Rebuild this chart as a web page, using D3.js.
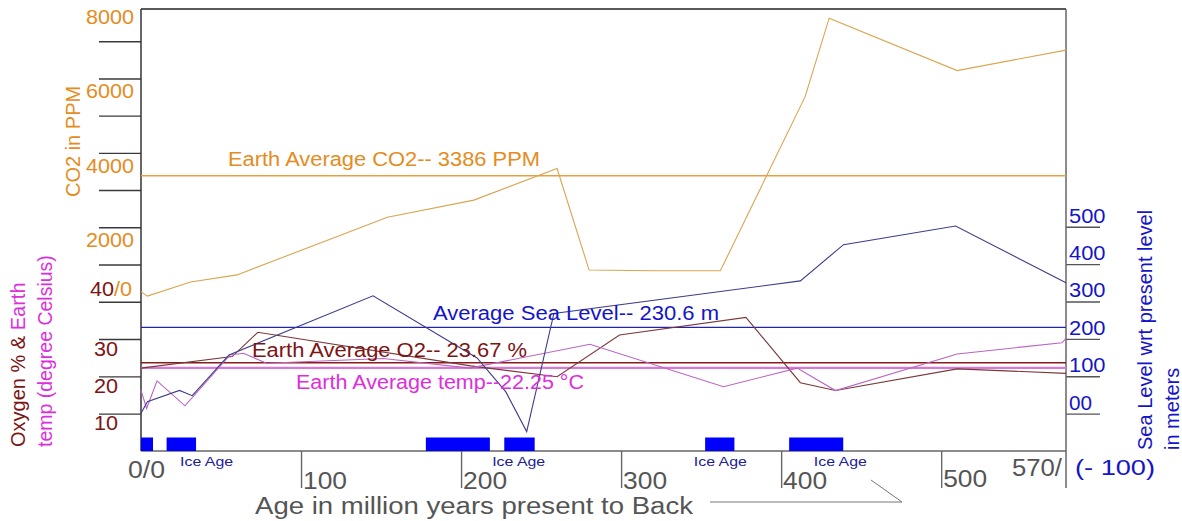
<!DOCTYPE html>
<html><head><meta charset="utf-8">
<script src="https://cdn.jsdelivr.net/npm/d3@7"></script>
<style>
body{margin:0;background:#fff;}
svg{display:block;}
text{font-family:"Liberation Sans",Arial,sans-serif;}
</style>
</head><body>
<svg id="c" width="1182" height="521"></svg>
<script>
// ---------------- DATA ----------------
const co2Ages  = [0, 4, 31, 60, 154, 208, 260, 280, 321, 362, 415, 430, 510, 578];
const co2Vals  = [270, 150, 530, 720, 2270, 2730, 3580, 850, 830, 830, 5510, 7620, 6210, 6760];

const seaAges  = [0, 4, 24, 32, 55, 145, 210, 228, 241, 258, 412, 439, 509, 578];
const seaVals  = [1, 32, 62, 48, 157, 315, 149, 58, -48, 268, 355, 452, 502, 350];

const o2Ages   = [0, 57, 73, 206, 260, 299, 378, 412, 434, 510, 578];
const o2Vals   = [22.2, 25.3, 31.8, 22.8, 19.9, 31.1, 35.8, 18.3, 16.2, 22.0, 20.8];

const tempAges = [0, 3.5, 10, 27.5, 55.5, 64, 78.5, 151.5, 205.5, 280.5, 364, 410, 434, 510, 575.5, 578];
const tempVals = [16.3, 11.4, 18.8, 12.1, 25.7, 26.2, 23.5, 24.8, 22.2, 28.6, 17.2, 22.2, 16.2, 26.0, 29.0, 30.2];

const co2Avg = 3386, seaAvg = 230.6, o2Avg = 23.67, tempAvg = 22.25;

const iceAges = [[0, 7.5], [16, 34.4], [178, 218], [227, 246], [352.5, 370.8], [405, 438.8]];
const iceLabelAges = [41, 236, 362, 437];

const co2TickVals = [1000, 2000, 3000, 4000, 5000, 6000, 7000];
const o2TickVals = [10, 20, 30, 40];
const seaTickVals = [0, 100, 200, 300, 400, 500];
const xTickVals = [100, 200, 300, 400, 500];

const co2Labels = ["8000", "6000", "4000", "2000"];
const o2Labels = ["30", "20", "10"];
const seaLabels = ["500", "400", "300", "200", "100", "00"];
const xLabels = ["100", "200", "300", "400", "500"];

// ---------------- SETUP ----------------
const svg = d3.select("#c");
const x = d3.scaleLinear().domain([0, 578]).range([141, 1066]);
const yCO2 = d3.scaleLinear().domain([0, 8000]).range([301.7, 4]);
const yO2 = d3.scaleLinear().domain([0, 40]).range([451, 301.7]);
const ySea = d3.scaleLinear().domain([-100, 500]).range([451, 226.7]);

const C = {
  co2Text: "#e58c1e", co2Avg: "#e6a040", co2Line: "#d9a552",
  seaText: "#1414c8", seaAvg: "#2424a8", seaLine: "#3d3d8a",
  o2Text: "#7d1414", o2Avg: "#8b1a1a", o2Line: "#7a3838",
  tText: "#dd2edd", tAvg: "#d67ad6", tLine: "#bb64c4",
  grey: "#555555", ice: "#0000ff", iceText: "#20209a"
};

function txt(g, s, px, py, size, color, anchor, width) {
  const t = g.append("text").attr("x", px).attr("y", py)
    .attr("font-size", size).attr("fill", color)
    .attr("text-anchor", anchor || "start").text(s);
  if (width) t.attr("textLength", width).attr("lengthAdjust", "spacingAndGlyphs");
  return t;
}

// ---------------- AXES ----------------
const gAx = svg.append("g");
function cleanAxis(g, color) {
  g.select(".domain").remove();
  g.selectAll(".tick line").attr("stroke", color).attr("stroke-width", 1.4);
  g.selectAll(".tick text").remove();
}
gAx.append("g").attr("transform", "translate(141,0)")
  .call(d3.axisLeft(yCO2).tickValues(co2TickVals).tickSize(42))
  .call(g => cleanAxis(g, "#3a3a3a"));
gAx.append("g").attr("transform", "translate(141,0)")
  .call(d3.axisLeft(yO2).tickValues(o2TickVals).tickSize(42))
  .call(g => cleanAxis(g, "#3a3a3a"));
gAx.append("g").attr("transform", "translate(1066,0)")
  .call(d3.axisRight(ySea).tickValues(seaTickVals).tickSize(34))
  .call(g => cleanAxis(g, "#555"));
gAx.append("g").attr("transform", "translate(0,451)")
  .call(d3.axisBottom(x).tickValues(xTickVals).tickSize(37))
  .call(g => cleanAxis(g, "#666"));

// frame
gAx.append("line").attr("x1", 141).attr("x2", 1066).attr("y1", 9).attr("y2", 9).attr("stroke", "#222").attr("stroke-width", 1.5);
gAx.append("line").attr("x1", 141).attr("x2", 141).attr("y1", 9).attr("y2", 451).attr("stroke", "#333").attr("stroke-width", 1.5);
gAx.append("line").attr("x1", 1066).attr("x2", 1066).attr("y1", 9).attr("y2", 488).attr("stroke", "#666").attr("stroke-width", 1.5);
gAx.append("line").attr("x1", 141).attr("x2", 1066).attr("y1", 451).attr("y2", 451).attr("stroke", "#666").attr("stroke-width", 1.5);

// ---------------- ICE AGES ----------------
const gIce = svg.append("g");
gIce.selectAll("rect").data(iceAges).join("rect")
  .attr("x", d => x(d[0])).attr("width", d => x(d[1]) - x(d[0]))
  .attr("y", 437.5).attr("height", 13.5).attr("fill", C.ice);
iceLabelAges.forEach(a => txt(gIce, "Ice Age", x(a), 466, 13.5, C.iceText, "middle", 53));

// ---------------- AVERAGE LINES ----------------
const gAvg = svg.append("g");
function hline(yv, color, w) {
  gAvg.append("line").attr("x1", 141).attr("x2", 1066).attr("y1", yv).attr("y2", yv)
    .attr("stroke", color).attr("stroke-width", w);
}
hline(yCO2(co2Avg), C.co2Avg, 1.5);
hline(ySea(seaAvg), C.seaAvg, 1.2);
hline(yO2(o2Avg), C.o2Avg, 1.5);
hline(yO2(tempAvg), C.tAvg, 2.2);

// ---------------- SERIES ----------------
const gS = svg.append("g").attr("fill", "none");
function series(ages, vals, ys, color) {
  const pts = ages.map((a, i) => [a, vals[i]]);
  gS.append("path").datum(pts)
    .attr("d", d3.line().x(d => x(d[0])).y(d => ys(d[1])))
    .attr("stroke", color).attr("stroke-width", 1.1).attr("stroke-linejoin", "miter");
}
series(co2Ages, co2Vals, yCO2, C.co2Line);
series(o2Ages, o2Vals, yO2, C.o2Line);
series(tempAges, tempVals, yO2, C.tLine);
series(seaAges, seaVals, ySea, C.seaLine);

// ---------------- AVERAGE LABELS ----------------
const gT = svg.append("g");
txt(gT, "Earth Average CO2-- 3386 PPM", 228, yCO2(co2Avg) - 10, 20, C.co2Text, "start", 312);
txt(gT, "Average Sea Level-- 230.6 m", 433, ySea(seaAvg) - 7.4, 20, C.seaText, "start", 286);
txt(gT, "Earth Average O2-- 23.67 %", 252, yO2(o2Avg) - 5.3, 20, C.o2Text, "start", 275);
txt(gT, "Earth Average temp--22.25 \u00B0C", 296, yO2(tempAvg) + 21.4, 20, C.tText, "start", 288);

// ---------------- TICK LABELS ----------------
const co2LabelVals = [8000, 6000, 4000, 2000];
co2Labels.forEach((s, i) => txt(gT, s, 134, yCO2(co2LabelVals[i]) + 20, 20, C.co2Text, "end", 48));
const o2LabelVals = [30, 20, 10];
o2Labels.forEach((s, i) => txt(gT, s, 118, yO2(o2LabelVals[i]) + 16.5, 20, C.o2Text, "end", 24));
// combined 40/0 label
const t40 = gT.append("text").attr("x", 132).attr("y", 296).attr("font-size", 20)
  .attr("text-anchor", "end").attr("textLength", 42).attr("lengthAdjust", "spacingAndGlyphs");
t40.append("tspan").attr("fill", C.o2Text).text("40");
t40.append("tspan").attr("fill", C.co2Text).text("/0");

const seaLabelVals = [500, 400, 300, 200, 100, 0];
seaLabels.forEach((s, i) => txt(gT, s, 1069, ySea(seaLabelVals[i]) - 4, 20, C.seaText, "start", s.length === 2 ? 23 : 36.5));
txt(gT, "(- 100)", 1075, 475, 22, C.seaText, "start", 80);

xLabels.forEach((s, i) => txt(gT, s, x(xTickVals[i]) + 2, xTickVals[i] === 500 ? 487 : 489, 23, C.grey, "start", 44));
txt(gT, "0/0", 146.5, 478, 23, C.grey, "middle", 37);
txt(gT, "570/", 1062, 476, 23, C.grey, "end", 50);

// ---------------- AXIS TITLES ----------------
txt(gT, "Age in million years present to Back", 255, 514, 23, C.grey, "start", 438);
gT.append("path").attr("d", "M710,502H902L871,480").attr("fill", "none")
  .attr("stroke", "#777").attr("stroke-width", 1);

gT.append("text").attr("transform", "translate(80,197) rotate(-90)")
  .attr("font-size", 20).attr("fill", C.co2Text).text("CO2 in PPM");
const tOx = gT.append("text").attr("transform", "translate(25,447) rotate(-90)").attr("font-size", 20);
tOx.append("tspan").attr("fill", C.o2Text).text("Oxygen % & ");
tOx.append("tspan").attr("fill", C.tText).text("Earth");
gT.append("text").attr("transform", "translate(52,447) rotate(-90)")
  .attr("font-size", 19.5).attr("fill", C.tText).text("temp (degree Celsius)");
gT.append("text").attr("transform", "translate(1152,450) rotate(-90)")
  .attr("font-size", 20).attr("fill", C.seaText).text("Sea Level wrt present level");
gT.append("text").attr("transform", "translate(1179,450) rotate(-90)")
  .attr("font-size", 20).attr("fill", C.seaText).text("in meters");
</script>
</body></html>
